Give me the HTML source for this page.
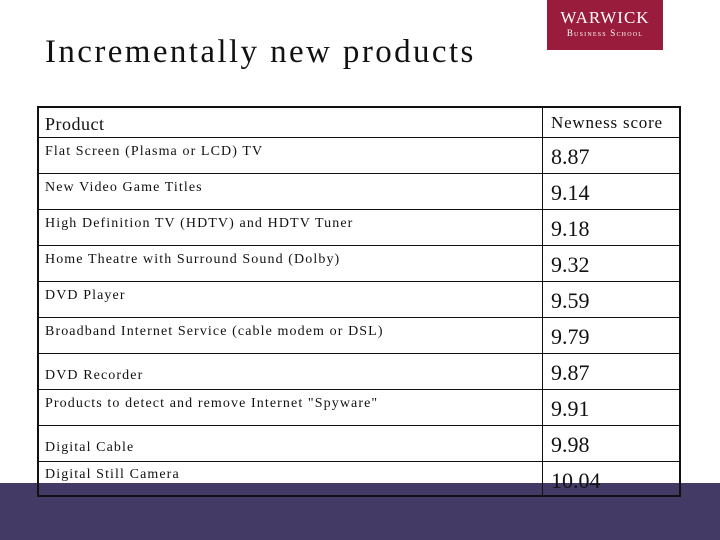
<!DOCTYPE html>
<html><head><meta charset="utf-8"><style>
body{margin:0;width:720px;height:540px;overflow:hidden;background:#fff;position:relative;font-family:"Liberation Serif",serif;}
.band{position:absolute;left:0;top:483px;width:720px;height:57px;background:#443a66;}
.logo{position:absolute;left:547px;top:0;width:116px;height:50px;background:#9a1c3c;color:#fff;text-align:center;}
.logo .a{font-size:17px;letter-spacing:1px;margin-top:9px;line-height:18px;}
.logo .b{font-size:9px;letter-spacing:1.2px;line-height:12px;font-variant:small-caps;}
h1{position:absolute;left:45px;top:34px;margin:0;font-weight:normal;font-size:33px;letter-spacing:2.4px;color:#111;}
.tbl{position:absolute;left:37px;top:106px;width:640px;height:387px;border:2px solid #111;}
.vline{position:absolute;left:503px;top:0;width:1px;height:387px;background:#111;}
.row{position:absolute;left:0;width:640px;border-top:1px solid #111;}
.p{position:absolute;left:6px;font-size:14px;letter-spacing:1.1px;color:#111;white-space:nowrap;line-height:16px;}
.n{position:absolute;left:512px;font-size:22px;color:#111;line-height:24px;}
</style></head><body>
<div class="band"></div>
<div class="logo"><div class="a">WARWICK</div><div class="b">Business School</div></div>
<h1>Incrementally new products</h1>
<div class="tbl">
<div class="vline"></div>
<div class="p" style="top:6px;font-size:18px;line-height:20px;letter-spacing:0.5px">Product</div>
<div class="n" style="top:5px;font-size:17px;line-height:20px;letter-spacing:0.8px">Newness score</div>
<div class="row" style="top:29px"><div class="p" style="top:6px">Flat Screen (Plasma or LCD) TV</div><div class="n" style="top:7px">8.87</div></div>
<div class="row" style="top:65px"><div class="p" style="top:6px">New Video Game Titles</div><div class="n" style="top:7px">9.14</div></div>
<div class="row" style="top:101px"><div class="p" style="top:6px">High Definition TV (HDTV) and HDTV Tuner</div><div class="n" style="top:7px">9.18</div></div>
<div class="row" style="top:137px"><div class="p" style="top:6px">Home Theatre with Surround Sound (Dolby)</div><div class="n" style="top:7px">9.32</div></div>
<div class="row" style="top:173px"><div class="p" style="top:6px">DVD Player</div><div class="n" style="top:7px">9.59</div></div>
<div class="row" style="top:209px"><div class="p" style="top:6px">Broadband Internet Service (cable modem or DSL)</div><div class="n" style="top:7px">9.79</div></div>
<div class="row" style="top:245px"><div class="p" style="top:14px">DVD Recorder</div><div class="n" style="top:7px">9.87</div></div>
<div class="row" style="top:281px"><div class="p" style="top:6px">Products to detect and remove Internet "Spyware"</div><div class="n" style="top:7px">9.91</div></div>
<div class="row" style="top:317px"><div class="p" style="top:14px">Digital Cable</div><div class="n" style="top:7px">9.98</div></div>
<div class="row" style="top:353px"><div class="p" style="top:5px">Digital Still Camera</div><div class="n" style="top:7px">10.04</div></div>
</div>
</body></html>
